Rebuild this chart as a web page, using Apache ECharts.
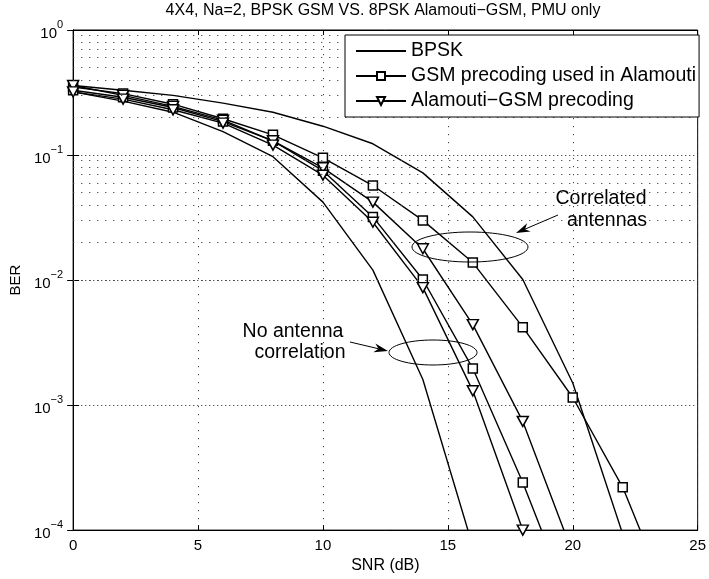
<!DOCTYPE html>
<html>
<head>
<meta charset="utf-8">
<script src="https://cdn.jsdelivr.net/npm/echarts@6/dist/echarts.min.js"></script>
<style>
  html, body { margin: 0; padding: 0; background: #fff; }
  #chart { width: 709px; height: 579px; }
</style>
</head>
<body>
<div id="chart"></div>
<script>
// SNR points (dB), BER
var snr = [0, 2, 4, 6, 8, 10, 12, 14, 16, 18, 20, 22, 24];
var bpskCorr   = [0.36, 0.33, 0.30, 0.26, 0.22, 0.17, 0.123, 0.072, 0.032, 0.0101, 0.0015, 0.000093];
var bpskUncorr = [0.32, 0.27, 0.22, 0.154, 0.097, 0.042, 0.012, 0.0016, 0.000074];
var gsmCorr    = [0.35, 0.31, 0.255, 0.195, 0.145, 0.095, 0.057, 0.030, 0.0138, 0.0042, 0.00115, 0.00022, 0.000023];
var gsmUncorr  = [0.33, 0.29, 0.24, 0.185, 0.13, 0.075, 0.032, 0.0101, 0.00196, 0.00024, 0.000023];
var alaCorr    = [0.36, 0.30, 0.245, 0.19, 0.13, 0.079, 0.042, 0.0178, 0.0044, 0.00074, 0.000065];
var alaUncorr  = [0.32, 0.28, 0.23, 0.18, 0.12, 0.069, 0.029, 0.0087, 0.0013, 0.0001];

var legendNames = ['BPSK', 'GSM precoding used in Alamouti', 'Alamouti\u2212GSM precoding'];
var xTicks = [0, 5, 10, 15, 20, 25];

// minor grid lines 2..9 in every decade
var minorGrid = [];
for (var d = -4; d < 0; d++) {
  for (var m = 2; m <= 9; m++) minorGrid.push({ yAxis: m * Math.pow(10, d) });
}

var font = 'Liberation Sans, Arial, Helvetica, sans-serif';
var dotted = { type: [1.2, 6.8], color: '#444', width: 1 };

function pairs(arr) {
  return arr.map(function (v, i) { return [snr[i], v]; });
}

function makeSeries(name, arr, kind) {
  var s = {
    name: name,
    type: 'line',
    data: pairs(arr),
    clip: true,
    lineStyle: { color: '#000', width: 1.4 },
    itemStyle: { color: '#fff', borderColor: '#000', borderWidth: 1.5 },
    emphasis: { disabled: true },
    z: 3
  };
  if (kind === 'none') {
    s.symbol = 'none';
    s.showSymbol = false;
    s.itemStyle = { color: '#000' };
  } else if (kind === 'square') {
    s.symbol = 'rect';
    s.symbolSize = 9;
  } else {
    s.symbol = 'path://M0,0L10,0L5,9Z';
    s.symbolSize = [11, 10];
  }
  return s;
}

var series = [
  makeSeries(legendNames[0], bpskCorr, 'none'),
  makeSeries(legendNames[0], bpskUncorr, 'none'),
  makeSeries(legendNames[1], gsmCorr, 'square'),
  makeSeries(legendNames[1], gsmUncorr, 'square'),
  makeSeries(legendNames[2], alaCorr, 'tri'),
  makeSeries(legendNames[2], alaUncorr, 'tri')
];

// minor horizontal grid drawn as mark lines on the first series
series[0].markLine = {
  silent: true,
  symbol: 'none',
  label: { show: false },
  lineStyle: dotted,
  animation: false,
  data: minorGrid
};

function arrow(x1, y1, x2, y2) {
  var dx = x2 - x1, dy = y2 - y1;
  var len = Math.sqrt(dx * dx + dy * dy);
  var ux = dx / len, uy = dy / len;
  var hl = 14, hw = 4.5;
  var bx = x2 - ux * hl, by = y2 - uy * hl;
  var mx = x2 - ux * hl * 0.7, my = y2 - uy * hl * 0.7;
  return [
    { type: 'line', shape: { x1: x1, y1: y1, x2: mx, y2: my }, style: { stroke: '#000', lineWidth: 1 }, z: 10 },
    { type: 'polygon', shape: { points: [[x2, y2], [bx - uy * hw, by + ux * hw], [mx, my], [bx + uy * hw, by - ux * hw]] },
      style: { fill: '#000' }, z: 10 }
  ];
}

function label(text, x, y) {
  return { type: 'text', x: x, y: y, z: 10,
    style: { text: text, font: '19.5px ' + font, fill: '#000', align: 'center', verticalAlign: 'middle' } };
}

var graphics = [
  { type: 'text', x: 383, y: 11, z: 10, style: { text: '4X4, Na=2, BPSK GSM VS. 8PSK Alamouti\u2212GSM, PMU only',
    font: '16px ' + font, fill: '#000', align: 'center', verticalAlign: 'middle' } },
  { type: 'ellipse', shape: { cx: 470, cy: 247, rx: 58, ry: 15 }, style: { fill: 'none', stroke: '#000', lineWidth: 1 }, z: 10 },
  { type: 'ellipse', shape: { cx: 433, cy: 352.5, rx: 44, ry: 12.5 }, style: { fill: 'none', stroke: '#000', lineWidth: 1 }, z: 10 },
  label('Correlated', 601, 199),
  label('antennas', 607, 221),
  label('No antenna', 293, 332),
  label('correlation', 300, 353)
].concat(arrow(558, 215, 516, 233)).concat(arrow(350, 342, 388, 351));

var option = {
  animation: false,
  backgroundColor: '#fff',
  textStyle: { fontFamily: font, color: '#000' },
  grid: { left: 72, right: 9, top: 30, bottom: 47, show: true, borderColor: '#000', borderWidth: 1, backgroundColor: 'transparent' },
  legend: {
    data: [
      { name: legendNames[0], itemStyle: { color: 'transparent', borderColor: 'transparent', borderWidth: 0, opacity: 0 } },
      { name: legendNames[1] },
      { name: legendNames[2] }
    ],
    orient: 'vertical',
    left: 345,
    top: 35,
    padding: [6, 3, 6, 10],
    itemGap: 5,
    itemWidth: 50,
    itemHeight: 10,
    backgroundColor: '#fff',
    borderColor: '#000',
    borderWidth: 1,
    selectedMode: false,
    textStyle: { fontSize: 19.5, lineHeight: 20, color: '#000', fontFamily: font },
    z: 8
  },
  xAxis: [{
    type: 'value',
    min: 0, max: 25, interval: 5,
    name: 'SNR (dB)',
    nameLocation: 'middle',
    nameGap: 27,
    nameTextStyle: { fontSize: 16, color: '#000' },
    axisLine: { lineStyle: { color: '#000', width: 1 } },
    axisTick: { inside: true, length: 5, lineStyle: { color: '#000' } },
    axisLabel: { fontSize: 15, color: '#000', margin: 8,
      formatter: function (v) { return xTicks.indexOf(v) >= 0 ? String(v) : ''; } },
    splitLine: { show: true, lineStyle: dotted }
  }, {
    type: 'value', position: 'top', min: 0, max: 25, interval: 5,
    axisLine: { lineStyle: { color: '#000' } },
    axisTick: { inside: true, length: 5, lineStyle: { color: '#000' } },
    axisLabel: { show: false }, splitLine: { show: false }
  }],
  yAxis: [{
    type: 'log',
    logBase: 10,
    min: 0.0001, max: 1,
    name: 'BER',
    nameLocation: 'middle',
    nameGap: 41,
    nameTextStyle: { fontSize: 15, color: '#000' },
    axisLine: { show: true, lineStyle: { color: '#000', width: 1 } },
    axisTick: { inside: true, length: 6, lineStyle: { color: '#000' } },
    axisLabel: {
      margin: 10,
      formatter: function (v) {
        var e = Math.round(Math.log(v) / Math.LN10);
        return '{b|10}{s|' + (e < 0 ? '\u2212' + (-e) : e) + '}';
      },
      rich: {
        b: { fontSize: 15, color: '#000', lineHeight: 22, verticalAlign: 'bottom', fontFamily: font },
        s: { fontSize: 11, color: '#000', lineHeight: 22, verticalAlign: 'top', fontFamily: font }
      }
    },
    splitLine: { show: true, lineStyle: { type: [1.2, 2.8], color: '#444', width: 1 } }
  }, {
    type: 'log', logBase: 10, position: 'right', min: 0.0001, max: 1,
    axisLine: { show: true, lineStyle: { color: '#000' } },
    axisTick: { inside: true, length: 6, lineStyle: { color: '#000' } },
    axisLabel: { show: false }, splitLine: { show: false }
  }],
  graphic: graphics,
  series: series
};

var chart = echarts.init(document.getElementById('chart'));
chart.setOption(option);
</script>
</body>
</html>
